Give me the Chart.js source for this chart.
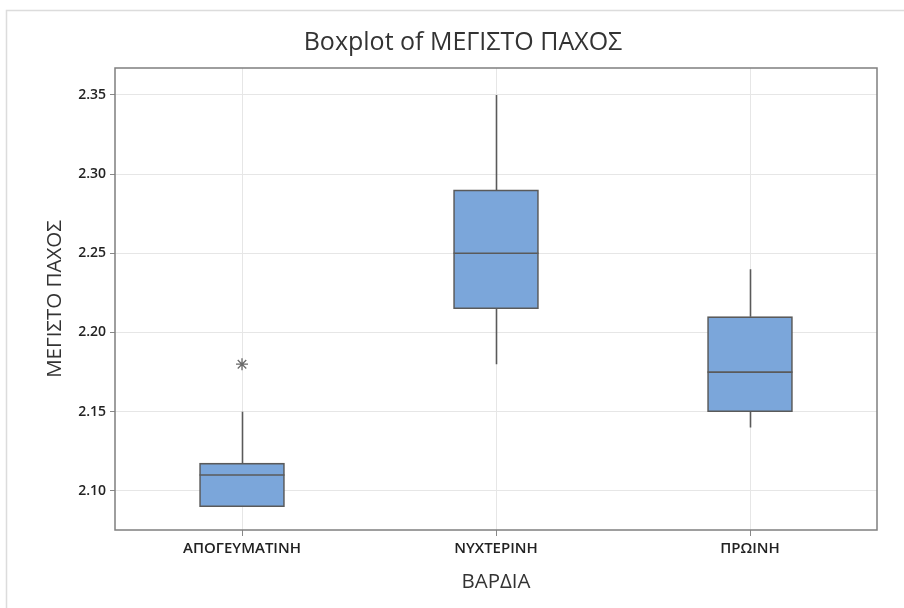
<!DOCTYPE html>
<html>
<head>
<meta charset="utf-8">
<script src="https://cdn.jsdelivr.net/npm/chart.js@4/dist/chart.umd.min.js"></script>
<style>
  html, body { margin: 0; padding: 0; background: #fff; }
  #wrap { position: relative; width: 904px; height: 608px; }
</style>
</head>
<body>
<div id="wrap"><canvas id="c" width="904" height="608"></canvas></div>
<script>
// Shift categories
const categories = ['ΑΠΟΓΕΥΜΑΤΙΝΗ', 'ΝΥΧΤΕΡΙΝΗ', 'ΠΡΩΙΝΗ'];
// Five-number summaries per shift
const whiskerLow  = [2.09,   2.18,  2.14];
const q1          = [2.09,   2.215, 2.15];
const median      = [2.11,   2.25,  2.175];
const q3          = [2.1175, 2.29,  2.21];
const whiskerHigh = [2.15,   2.35,  2.24];
// Outliers (category index, value)
const outlierCat = [0];
const outlierVal = [2.18];
// Y axis tick values
const yTicks = [2.10, 2.15, 2.20, 2.25, 2.30, 2.35];

const chartTitle = 'Boxplot of ΜΕΓΙΣΤΟ ΠΑΧΟΣ';

const FONT = "'Open Sans', 'Noto Sans', sans-serif";
const LINE = '#5a5a5a';

// Outer frame, heading and plot border
const framePlugin = {
  id: 'frame',
  beforeDraw(chart) {
    const ctx = chart.ctx;
    ctx.save();
    ctx.strokeStyle = '#dcdcdc';
    ctx.lineWidth = 1.5;
    ctx.beginPath();
    ctx.moveTo(6.5, 608);
    ctx.lineTo(6.5, 10.5);
    ctx.lineTo(904, 10.5);
    ctx.stroke();
    ctx.fillStyle = '#333';
    ctx.font = "25px " + FONT;
    ctx.textAlign = 'center';
    ctx.textBaseline = 'middle';
    ctx.fillText(chartTitle, 463, 43);
    ctx.restore();
  },
  afterDraw(chart) {
    const {ctx, chartArea: a} = chart;
    ctx.save();
    ctx.strokeStyle = '#7f7f7f';
    ctx.lineWidth = 1.5;
    ctx.strokeRect(a.left, a.top, a.right - a.left, a.bottom - a.top);
    ctx.restore();
  }
};

// Whiskers (behind boxes) and median lines (on top of boxes)
const boxPlugin = {
  id: 'boxparts',
  beforeDatasetsDraw(chart) {
    const ctx = chart.ctx;
    const y = chart.scales.y;
    const meta = chart.getDatasetMeta(0);
    ctx.save();
    ctx.strokeStyle = LINE;
    ctx.lineWidth = 1.6;
    meta.data.forEach((bar, i) => {
      const x = Math.round(bar.x) + 0.5;
      ctx.beginPath();
      ctx.moveTo(x, y.getPixelForValue(whiskerHigh[i]));
      ctx.lineTo(x, y.getPixelForValue(q3[i]));
      ctx.moveTo(x, y.getPixelForValue(q1[i]));
      ctx.lineTo(x, y.getPixelForValue(whiskerLow[i]));
      ctx.stroke();
    });
    ctx.restore();
  },
  afterDatasetsDraw(chart) {
    const ctx = chart.ctx;
    const y = chart.scales.y;
    const meta = chart.getDatasetMeta(0);
    ctx.save();
    ctx.strokeStyle = LINE;
    ctx.lineWidth = 1.6;
    meta.data.forEach((bar, i) => {
      const py = y.getPixelForValue(median[i]);
      ctx.beginPath();
      ctx.moveTo(bar.x - bar.width / 2, py);
      ctx.lineTo(bar.x + bar.width / 2, py);
      ctx.stroke();
    });
    ctx.restore();
  }
};

new Chart(document.getElementById('c'), {
  type: 'bar',
  data: {
    labels: categories,
    datasets: [
      {
        type: 'bar',
        data: categories.map((c, i) => [q1[i], q3[i]]),
        backgroundColor: '#7ba6da',
        borderColor: LINE,
        borderWidth: 1.6,
        borderSkipped: false,
        barThickness: 85,
        grouped: false,
        order: 2
      },
      {
        type: 'line',
        data: outlierCat.map((c, i) => ({x: categories[c], y: outlierVal[i]})),
        showLine: false,
        pointStyle: 'star',
        pointRadius: 6,
        borderColor: '#6a6a6a',
        borderWidth: 1.3,
        backgroundColor: '#6a6a6a',
        order: 1
      }
    ]
  },
  options: {
    responsive: false,
    animation: false,
    layout: { padding: { left: 0, right: 27, top: 68, bottom: 0 } },
    plugins: {
      legend: { display: false },
      tooltip: { enabled: false },
      title: { display: false }
    },
    scales: {
      x: {
        grid: { offset: false, color: '#e6e6e6', lineWidth: 1, tickLength: 6, tickColor: '#888' },
        border: { display: false },
        ticks: { color: '#222', font: { family: FONT, size: 15, weight: '600' }, padding: 4, maxRotation: 0 },
        title: {
          display: true, text: 'ΒΑΡΔΙΑ', color: '#333',
          font: { family: FONT, size: 20.5 }, padding: { top: 0, bottom: 14 }
        },
        afterFit(scale) { scale.height = 78; }
      },
      y: {
        min: 2.0753,
        max: 2.367,
        grid: { color: '#e6e6e6', lineWidth: 1, tickLength: 5, tickColor: '#888' },
        border: { display: false },
        ticks: {
          color: '#222', font: { family: FONT, size: 14, weight: '600' }, padding: 4,
          callback: v => Number(v).toFixed(2)
        },
        afterBuildTicks(scale) { scale.ticks = yTicks.map(v => ({ value: v })); },
        title: {
          display: true, text: 'ΜΕΓΙΣΤΟ ΠΑΧΟΣ', color: '#333',
          font: { family: FONT, size: 20.5 }, padding: { top: 43, bottom: 0 }
        },
        afterFit(scale) { scale.width = 115; }
      }
    }
  },
  plugins: [framePlugin, boxPlugin]
});
</script>
</body>
</html>
